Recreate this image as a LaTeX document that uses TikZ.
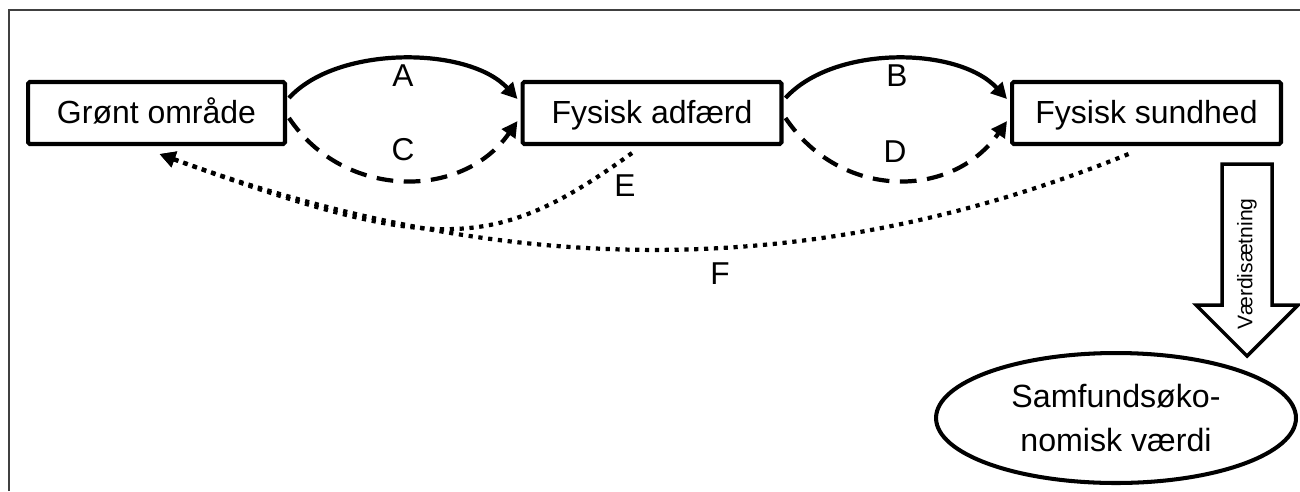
\documentclass[tikz,border=0pt]{standalone}
\usepackage{fontspec}
\setmainfont{Liberation Sans}
\usetikzlibrary{shapes.geometric,arrows.meta,calc}
\begin{document}
\begin{tikzpicture}[x=0.02cm,y=-0.02cm,
  box/.style={draw, line width=2.3pt, rounded corners=1pt, minimum height=1.24cm, inner sep=0pt,
    font=\fontsize{18.2}{22}\selectfont, text height=12pt, text depth=0.5pt},
  lbl/.style={font=\fontsize{18}{22}\selectfont, inner sep=0pt},
  headtip/.style={-{Triangle[length=9pt,width=9pt]}},
  solidarrow/.style={headtip, line width=2.4pt},
  dasharrow/.style={headtip, line width=2.4pt, dash pattern=on 9.5pt off 6pt},
  dotarrow/.style={headtip, line width=2.4pt, dash pattern=on 2.4pt off 3.2pt},
  fatarrow/.style={draw, line width=2pt, line join=miter},
]
\useasboundingbox (0,0) rectangle (1300,491);
% frame
\draw[line width=0.6pt, black!75] (9,491) -- (9,10) -- (1300,10);

% nodes
\node[box, minimum width=5.14cm] (g) at (156.5,113) {Grønt område};
\node[box, minimum width=5.18cm] (a) at (652,113) {Fysisk adfærd};
\node[box, minimum width=5.38cm] (s) at (1146.5,113) {Fysisk sundhed};
\node[ellipse, draw, line width=2.3pt, minimum width=7.2cm, minimum height=2.6cm, inner sep=0pt,
  align=center, font=\fontsize{18.3}{24.5}\selectfont] (v) at (1116,418) {Samfundsøko-\\nomisk værdi};

% A / C
\draw[solidarrow] ($(g.east)+(2,-15)$) .. controls +(48,-53) and +(-49,-53) .. ($(a.west)+(-3,-14)$);
\draw[dasharrow] ($(g.east)+(2,5)$) .. controls +(55,82) and +(-55,79) .. ($(a.west)+(-3,8)$);
% B / D
\draw[solidarrow] ($(a.east)+(2,-15)$) .. controls +(48,-53) and +(-49,-53) .. ($(s.west)+(-3,-14)$);
\draw[dasharrow] ($(a.east)+(2,5)$) .. controls +(55,82) and +(-55,79) .. ($(s.west)+(-3,8)$);

% E / F
\coordinate (tipg) at ($(g.south)+(3,8)$);
\draw[dotarrow] ($(a.south)+(-20,7)$) .. controls +(-138,100) and +(275,100) .. (tipg);
\draw[dotarrow] ($(s.south)+(-18,8)$) .. controls +(-314,127) and +(349,127) .. (tipg);

% labels
\node[lbl] (la) at (403,76) {A};
\node[lbl] (lc) at (403,150) {C};
\node[lbl] (lb) at (897,76) {B};
\node[lbl] (ld) at (895,152) {D};
\node[lbl] (le) at (625,186) {E};
\node[lbl] (lf) at (720,274) {F};

% fat arrow
\draw[fatarrow] (1222,164) -- (1272,164) -- (1272,305) -- (1298,305) -- (1247,356) -- (1196,305) -- (1222,305) -- cycle;
\node[rotate=90, inner sep=0pt, font=\fontsize{12}{14}\selectfont] (vs) at (1247,264) {Værdisætning};
\end{tikzpicture}
\end{document}
